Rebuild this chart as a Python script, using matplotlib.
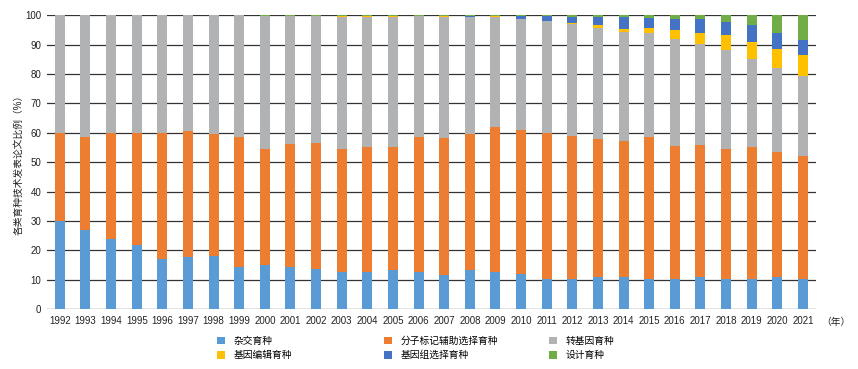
import numpy as np
import matplotlib
matplotlib.use("Agg")
import matplotlib.pyplot as plt

plt.rcParams['font.family'] = ['Liberation Sans', 'Noto Sans CJK SC', 'DejaVu Sans']

years = [str(y) for y in range(1992, 2022)]

series_names = ['杂交育种', '分子标记辅助选择育种', '转基因育种',
                '基因编辑育种', '基因组选择育种', '设计育种']
colors = ['#5B9BD5', '#ED7D31', '#B1B2B4', '#FFC000', '#4472C4', '#70AD47']

hybrid = [30.0, 27.1, 23.8, 21.7, 17.0, 17.6, 18.0, 14.2, 15.1, 14.4,
          13.7, 12.8, 12.8, 13.3, 12.5, 11.5, 13.4, 12.8, 11.9, 10.3,
          10.3, 10.8, 10.8, 10.4, 10.4, 11.1, 10.4, 10.2, 10.9, 10.2]
marker_assisted = [29.9, 31.6, 36.1, 38.2, 42.9, 43.1, 41.6, 44.4, 39.5, 41.9,
                   42.9, 41.7, 42.5, 41.8, 46.2, 46.9, 46.2, 49.1, 49.2, 49.7,
                   48.7, 47.0, 46.6, 48.3, 45.3, 44.9, 44.0, 45.1, 42.7, 42.1]
transgenic = [40.1, 41.3, 40.1, 40.1, 40.1, 39.3, 40.4, 41.4, 45.0, 43.3,
              43.1, 45.0, 44.1, 44.3, 40.9, 41.1, 39.8, 37.4, 37.5, 38.1,
              38.0, 37.8, 36.8, 35.4, 36.4, 34.4, 33.7, 29.8, 28.4, 27.1]
gene_editing = [0, 0, 0, 0, 0, 0, 0, 0, 0.3, 0.2,
                0.2, 0.4, 0.5, 0.4, 0.2, 0.1, 0.1, 0.3, 0.3, 0.1,
                0.3, 1.1, 1.2, 1.7, 2.8, 3.7, 5.2, 5.9, 6.5, 7.1]
genomic_selection = [0, 0, 0, 0, 0, 0, 0, 0, 0, 0,
                     0, 0, 0, 0.1, 0.1, 0.3, 0.4, 0.3, 0.7, 1.7,
                     2.2, 2.8, 3.9, 3.4, 4.0, 4.8, 4.4, 5.6, 5.4, 5.2]
design = [0, 0, 0, 0, 0, 0, 0, 0, 0.1, 0.2,
          0.1, 0.1, 0.1, 0.1, 0.1, 0.1, 0.1, 0.1, 0.4, 0.1,
          0.5, 0.5, 0.7, 0.8, 1.1, 1.1, 2.3, 3.4, 6.1, 8.3]

data = [hybrid, marker_assisted, transgenic, gene_editing, genomic_selection, design]

fig = plt.figure(figsize=(8.58, 3.69), dpi=100)
ax = fig.add_axes([0.0548, 0.162, 0.896, 0.7965])

x = np.arange(len(years))
bottom = np.zeros(len(years))
handles = []
for vals, name, c in zip(data, series_names, colors):
    bars = ax.bar(x, vals, width=0.39, bottom=bottom, color=c, label=name,
                  edgecolor='none', zorder=3)
    handles.append(bars)
    bottom += np.array(vals)

ax.set_xlim(-0.5, len(years) - 0.5)
ax.set_ylim(0, 100)
ax.set_yticks(range(0, 101, 10))
ax.set_xticks(x)
ax.set_xticklabels(years)
ax.tick_params(axis='both', length=0, labelsize=7, colors='#222222')
ax.tick_params(axis='y', pad=4)
ax.tick_params(axis='x', pad=5)
ax.yaxis.grid(True, color='#333333', linewidth=0.9, zorder=0)
ax.set_axisbelow(True)
for s in ax.spines.values():
    s.set_visible(False)

ax.set_ylabel('各类育种技术发表论文比例（%）', fontsize=7, color='#222222', labelpad=1)
fig.text(0.957, 0.128, '（年）', fontsize=7, color='#222222', va='center', ha='left')

# three legend columns, like the Excel legend layout
col_x = [0.253, 0.448, 0.640]
for i in range(3):
    fig.legend([handles[i], handles[i + 3]], [series_names[i], series_names[i + 3]],
               loc='upper left', bbox_to_anchor=(col_x[i], 0.09),
               ncol=1, frameon=False, fontsize=7, handlelength=0.8,
               handleheight=0.8, handletextpad=0.9, labelspacing=0.45,
               borderaxespad=0, borderpad=0)

fig.savefig('out.png', dpi=100)
